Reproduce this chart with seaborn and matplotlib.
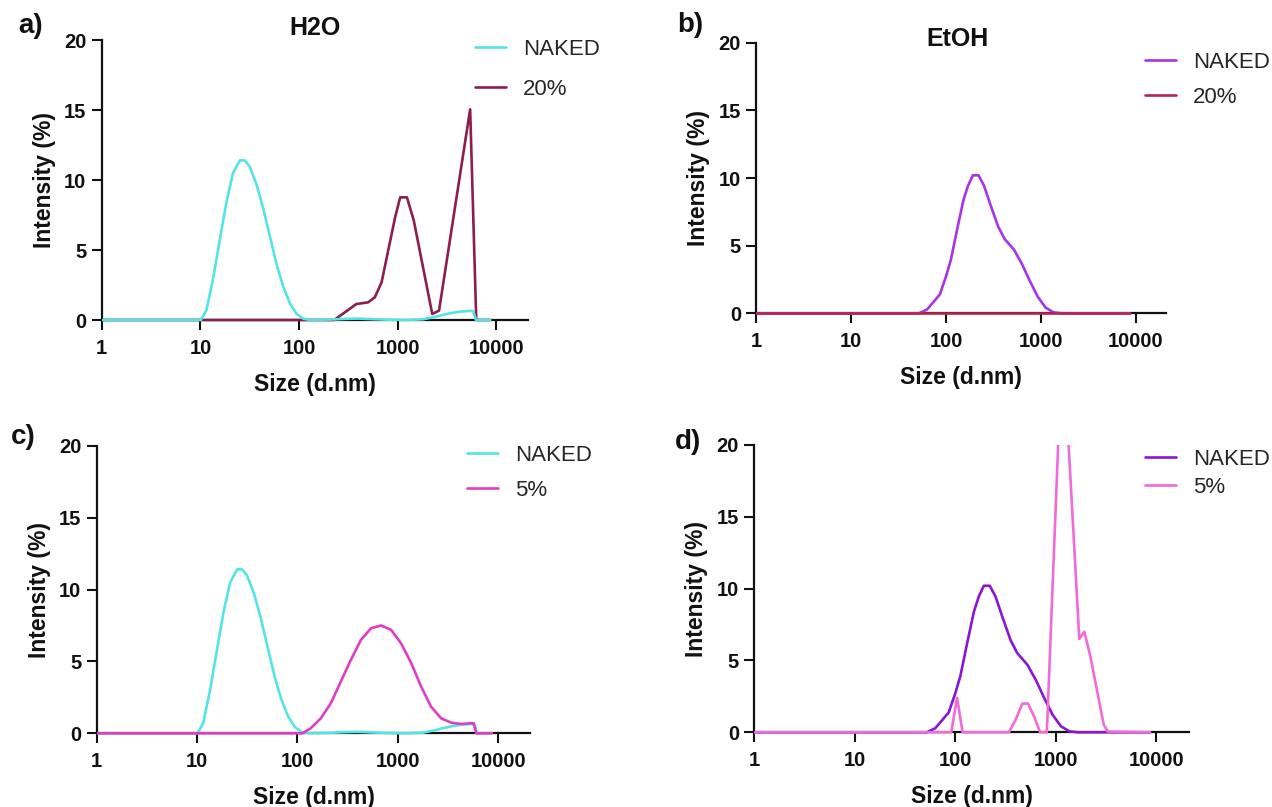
import matplotlib
matplotlib.use("Agg")
import matplotlib.pyplot as plt
from matplotlib.patches import Rectangle
from matplotlib.ticker import NullLocator
import seaborn as sns

# ---------------------------------------------------------------- data
# DLS intensity distributions: size (d.nm) vs intensity (%)
naked_h2o_size = [1, 10.1, 11.5, 13.4, 15.7, 18.4, 21.4, 25.1, 28.2, 31.6, 37, 43.2,
                  50.5, 59, 68.9, 80.5, 94, 110, 129, 200, 300, 400, 550, 800, 1200,
                  1800, 2300, 2800, 3500, 4300, 5400, 5800, 6200, 8635]
naked_h2o_int = [0, 0, 0.7, 2.9, 5.7, 8.45, 10.5, 11.4, 11.4, 10.95, 9.7, 8.0,
                 6.0, 4.0, 2.4, 1.2, 0.45, 0.1, 0, 0.03, 0.08, 0.1, 0.06, 0.02, 0,
                 0.05, 0.2, 0.35, 0.5, 0.6, 0.65, 0.62, 0, 0]

pct20_h2o_size = [1, 227, 380, 500, 585, 685, 939, 1057, 1237, 1449, 2234, 2617,
                  5408, 6237, 8635]
pct20_h2o_int = [0, 0, 1.14, 1.26, 1.62, 2.69, 7.33, 8.76, 8.76, 7.14, 0.43, 0.67,
                 15.05, 0, 0]

naked_etoh_size = [1, 52, 63, 71, 86, 100, 112, 131, 153, 171, 192, 220, 251, 293,
                   355, 414, 521, 631, 764, 926, 1122, 1360, 1650, 8635]
naked_etoh_int = [0, 0, 0.28, 0.7, 1.39, 2.73, 3.9, 6.2, 8.4, 9.45, 10.2, 10.2, 9.45,
                  8.05, 6.4, 5.5, 4.7, 3.65, 2.4, 1.23, 0.42, 0.07, 0, 0]

pct20_etoh_size = [1, 8635]
pct20_etoh_int = [0, 0]

pct5_h2o_size = [1, 112, 136, 171, 215, 271, 341, 430, 541, 681, 858, 1080, 1360,
                 1710, 2150, 2710, 3410, 4300, 5410, 5700, 6070, 8635]
pct5_h2o_int = [0, 0, 0.35, 1.04, 2.08, 3.6, 5.1, 6.5, 7.3, 7.5, 7.2, 6.25, 4.9,
                3.25, 1.85, 1.04, 0.74, 0.65, 0.7, 0.7, 0, 0]

pct5_etoh_size = [1, 91, 104, 118, 341, 398, 464, 528, 607, 697, 813, 1164, 1710,
                  1920, 2200, 3000, 3290, 8635]
pct5_etoh_int = [0, 0, 2.4, 0, 0, 0.88, 2.0, 2.0, 1.1, 0, 0, 27.7, 6.5,
                 7.0, 5.3, 0.5, 0.05, 0]

x_ticks = [1, 10, 100, 1000, 10000]
x_tick_labels = ["1", "10", "100", "1000", "10000"]
y_ticks = [0, 5, 10, 15, 20]
y_tick_labels = ["0", "5", "10", "15", "20"]

# ---------------------------------------------------------------- style
sns.set_style("ticks")
plt.rcParams["font.family"] = ["Liberation Sans", "DejaVu Sans"]
plt.rcParams["font.weight"] = "bold"
plt.rcParams["axes.labelweight"] = "bold"
plt.rcParams["lines.solid_joinstyle"] = "round"

W, H = 1272, 807
fig = plt.figure(figsize=(W / 100, H / 100), dpi=100)


def axes_px(left, right, top, bottom):
    return fig.add_axes([left / W, 1 - bottom / H, (right - left) / W, (bottom - top) / H])


def style_axis(ax):
    ax.set_xscale("log")
    ax.set_xlim(1, 21000)
    ax.set_ylim(0, 20)
    ax.set_xticks(x_ticks)
    ax.set_xticklabels(x_tick_labels)
    ax.xaxis.set_minor_locator(NullLocator())
    ax.set_yticks(y_ticks)
    ax.set_yticklabels(y_tick_labels)
    for side in ("top", "right"):
        ax.spines[side].set_visible(False)
    for side in ("left", "bottom"):
        ax.spines[side].set_linewidth(1.6)
        ax.spines[side].set_color("#111111")
    ax.tick_params(axis="both", length=7.5, width=1.5, color="#111111",
                   labelsize=14.5, labelcolor="#111111")
    ax.tick_params(axis="x", pad=6)
    ax.tick_params(axis="y", pad=3.5)
    ax.set_xlabel("Size (d.nm)", fontsize=16.5, labelpad=11, color="#111111")
    ax.set_ylabel("Intensity (%)", fontsize=16.5, labelpad=6, color="#111111")
    ax.set_facecolor("white")


def draw(ax, sizes, values, color, label):
    sns.lineplot(x=sizes, y=values, ax=ax, color=color, lw=1.9, label=label,
                 estimator=None, sort=False)
    line = ax.lines[-1]
    line.set_zorder(3)
    line.set_clip_path(Rectangle((0, -0.05), 1, 1.05, transform=ax.transAxes))
    return line


def legend(ax, handles, x_px, y_px, spacing):
    ax.legend(handles=handles, loc="upper left",
              bbox_to_anchor=(x_px / W, 1 - y_px / H), bbox_transform=fig.transFigure,
              frameon=False, borderpad=0, borderaxespad=0, handlelength=1.4,
              handletextpad=0.75, labelspacing=spacing,
              prop={"weight": "normal", "size": 16})


CYAN = "#55E4E6"
MAROON = "#8C1F4F"
PURPLE_B = "#A735E6"
CRIMSON = "#B5264F"
MAGENTA = "#E03EC2"
PURPLE_D = "#8A16D4"
PINK = "#F06AD8"

# a) water, 20 %
ax_a = axes_px(101.7, 528.3, 40, 320)
style_axis(ax_a)
h20 = draw(ax_a, pct20_h2o_size, pct20_h2o_int, MAROON, "20%")
hn = draw(ax_a, naked_h2o_size, naked_h2o_int, CYAN, "NAKED")
legend(ax_a, [hn, h20], 475, 39, 0.85)

# b) ethanol, 20 %
ax_b = axes_px(756.3, 1166.3, 42.7, 313.3)
style_axis(ax_b)
hn = draw(ax_b, naked_etoh_size, naked_etoh_int, PURPLE_B, "NAKED")
h20 = draw(ax_b, pct20_etoh_size, pct20_etoh_int, CRIMSON, "20%")
legend(ax_b, [hn, h20], 1145, 52, 0.62)

# c) water, 5 %
ax_c = axes_px(96.7, 530.4, 445.7, 733.3)
style_axis(ax_c)
hn = draw(ax_c, naked_h2o_size, naked_h2o_int, CYAN, "NAKED")
h5 = draw(ax_c, pct5_h2o_size, pct5_h2o_int, MAGENTA, "5%")
legend(ax_c, [hn, h5], 467, 445, 0.62)

# d) ethanol, 5 %
ax_d = axes_px(754.3, 1188.8, 445, 732.3)
style_axis(ax_d)
hn = draw(ax_d, naked_etoh_size, naked_etoh_int, PURPLE_D, "NAKED")
h5 = draw(ax_d, pct5_etoh_size, pct5_etoh_int, PINK, "5%")
legend(ax_d, [hn, h5], 1145, 449, 0.32)

# panel titles and letters
fig.text(315 / W, 1 - 28 / H, "H2O", ha="center", va="center", fontsize=18,
         fontweight="bold", color="#111111")
fig.text(958 / W, 1 - 39 / H, "EtOH", ha="center", va="center", fontsize=18,
         fontweight="bold", color="#111111")
for letter, (x, y) in {"a)": (31, 26), "b)": (690, 25), "c)": (23, 437),
                       "d)": (688, 442)}.items():
    fig.text(x / W, 1 - y / H, letter, ha="center", va="center", fontsize=20,
             fontweight="bold", color="#111111")

fig.savefig("out.png", dpi=100, facecolor="white")
